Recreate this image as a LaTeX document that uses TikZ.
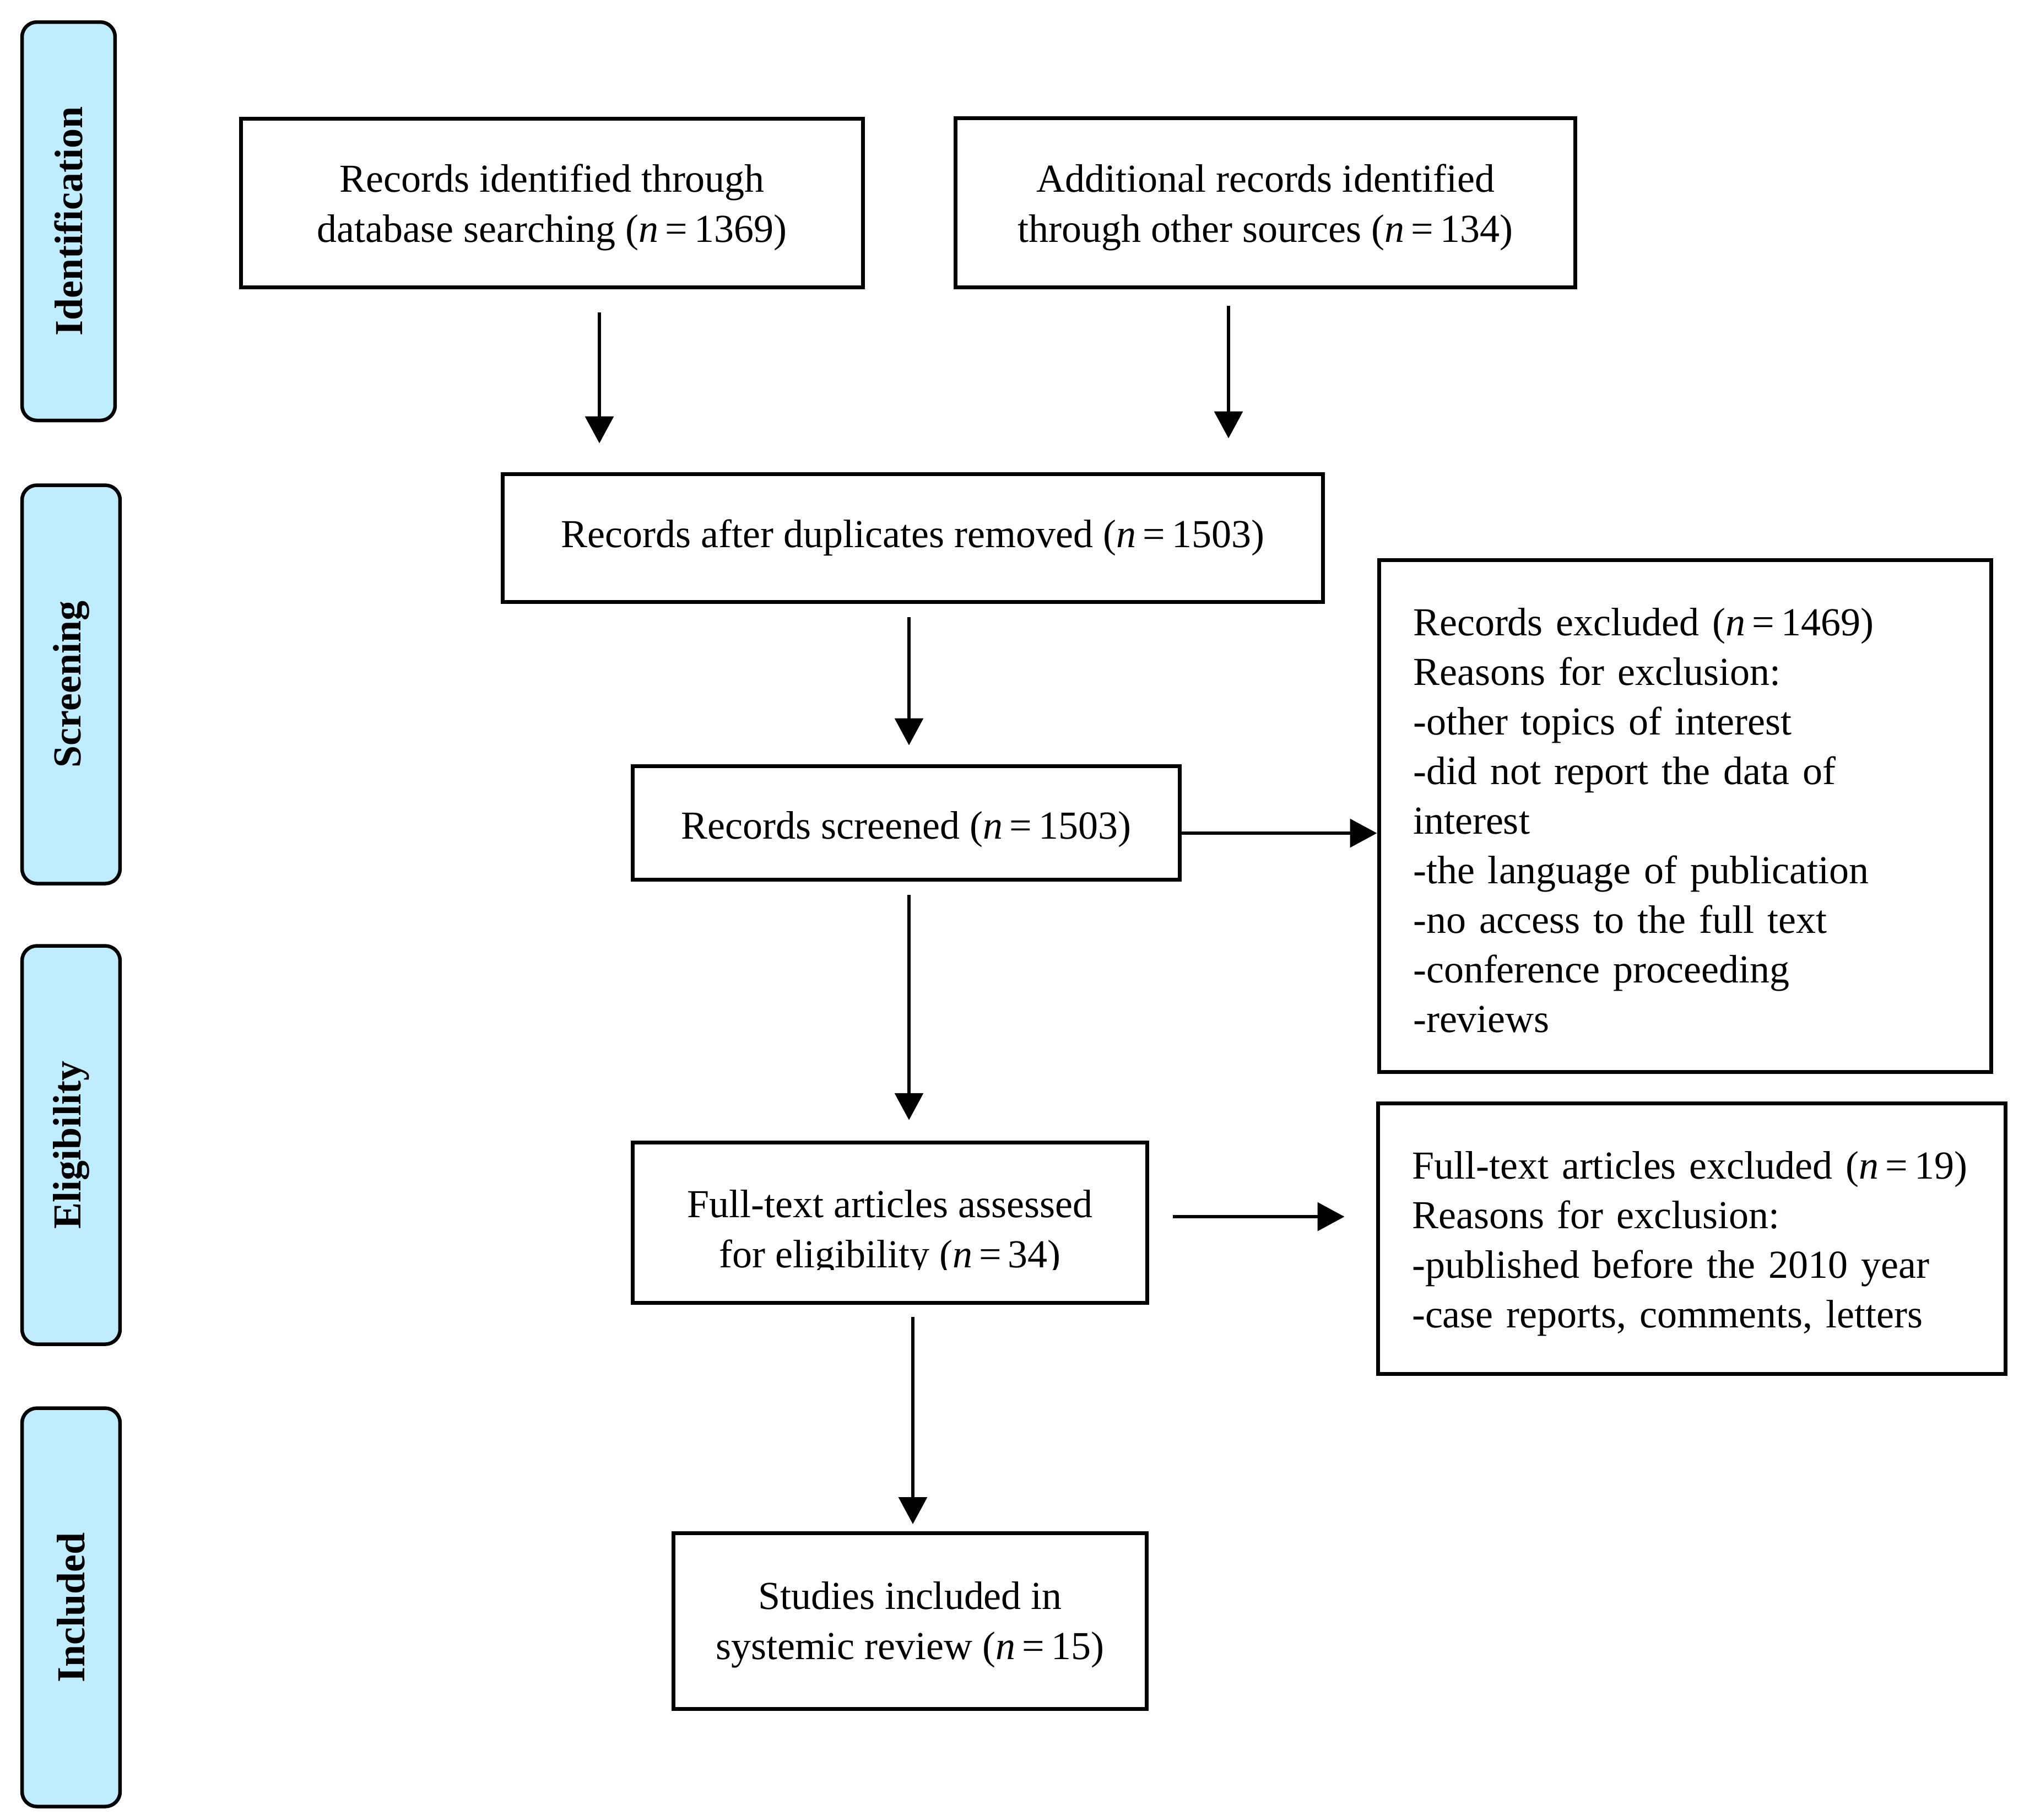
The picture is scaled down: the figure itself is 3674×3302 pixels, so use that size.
\documentclass[tikz,border=0pt]{standalone}
\usepackage{fontspec}
\setmainfont{Liberation Serif}
\usetikzlibrary{arrows.meta}
\definecolor{sideblue}{RGB}{192,236,255}
\newcommand{\nval}[1]{(\textit{n}\,=\,#1)}
\begin{document}
\begin{tikzpicture}[x=0.1pt,y=-0.1pt,
  every node/.style={font=\fontsize{7.2}{9.1}\selectfont},
  box/.style={draw, line width=0.7pt, inner sep=0pt, align=center},
  lbox/.style={draw, line width=0.7pt, inner xsep=6.2pt, inner ysep=0pt, align=left,
    font=\fontsize{7.2}{9.0}\selectfont},
  side/.style={draw, line width=0.65pt, fill=sideblue, rounded corners=2.7pt, inner sep=0pt,
    minimum width=17.8pt, minimum height=72.3pt, font=\fontsize{7.2}{8}\selectfont\bfseries},
  arr/.style={line width=0.65pt, -{Triangle[length=4.9pt,width=5.1pt]}}]
\useasboundingbox (0,0) rectangle (3674,3302);

% phase sidebars
\node[side, minimum width=16.9pt] (s1) at (124.5,401.5) {\rotatebox{90}{Identification}};
\node[side] (s2) at (129,1242) {\rotatebox{90}{Screening}};
\node[side] (s3) at (129,2078) {\rotatebox{90}{Eligibility}};
\node[side] (s4) at (129,2917) {\rotatebox{90}{Included}};

% boxes
\node[box, minimum width=112.9pt, minimum height=30.6pt] (b1) at (1002,368)
  {\rule{0pt}{6.7pt}Records identified through\\database searching \nval{1369}};
\node[box, minimum width=112.5pt, minimum height=30.7pt] (b2) at (2297,368)
  {\rule{0pt}{6.7pt}Additional records identified\\through other sources \nval{134}};
\node[box, minimum width=148.9pt, minimum height=23.2pt] (b3) at (1657,976)
  {Records after duplicates removed \nval{1503}};
\node[box, minimum width=99.3pt, minimum height=20.6pt] (b4) at (1645,1493)
  {\raisebox{-1.2pt}[\height][\depth]{Records screened \nval{1503}}};
\node[lbox, text width=98.75pt, minimum height=92.9pt] (e1) at (3058.75,1481)
  {\rule{0pt}{6.6pt}Records excluded \nval{1469}\\
   Reasons for exclusion:\\
   -other topics of interest\\
   -did not report the data of\\
   interest\\
   -the language of publication\\
   -no access to the full text\\
   -conference proceeding\\
   -reviews};
\node[box, minimum width=93.5pt, minimum height=29.15pt] (b5) at (1615.5,2219) {};
\coordinate (cut) at (0,2304);
\begin{scope}
  \clip (b5.north west) rectangle (b5.east |- cut);
  \node[align=center, inner sep=0pt] (t5) at ([yshift=-1.9pt]b5.center)
    {Full-text articles assessed\\for eligibility \nval{34}};
\end{scope}
\node[lbox, text width=101.55pt, minimum height=49.15pt] (e2) at (3070.75,2248)
  {\rule{0pt}{6.9pt}Full-text articles excluded~\nval{19}\\
   Reasons for exclusion:\\
   -published before the 2010 year\\
   -case reports, comments, letters};
\node[box, minimum width=86.0pt, minimum height=31.9pt] (b6) at (1652,2942)
  {\rule{0pt}{6.3pt}Studies included in\\systemic review \nval{15}};

% connectors
\coordinate (x1) at (1088,0);
\coordinate (x2) at (2230,0);
\coordinate (x3) at (1650,0);
\coordinate (x6) at (1657,0);
\coordinate (y1) at (0,1512);
\coordinate (y5) at (0,2208);
\draw[arr, shorten <=4.2pt, shorten >=5.2pt] (b1.south -| x1) -- (b3.north -| x1);
\draw[arr, shorten <=3.0pt, shorten >=6.1pt] (b2.south -| x2) -- (b3.north -| x2);
\draw[arr, shorten <=2.4pt, shorten >=3.4pt] (b3.south -| x3) -- (b4.north -| x3);
\draw[arr] (b4.east |- y1) -- (e1.west |- y1);
\draw[arr, shorten <=2.4pt, shorten >=3.7pt] (b4.south -| x3) -- (b5.north -| x3);
\draw[arr, shorten <=4.3pt, shorten >=5.7pt] (b5.east |- y5) -- (e2.west |- y5);
\draw[arr, shorten <=2.2pt, shorten >=1.3pt] (b5.south -| x6) -- (b6.north -| x6);
\end{tikzpicture}
\end{document}
